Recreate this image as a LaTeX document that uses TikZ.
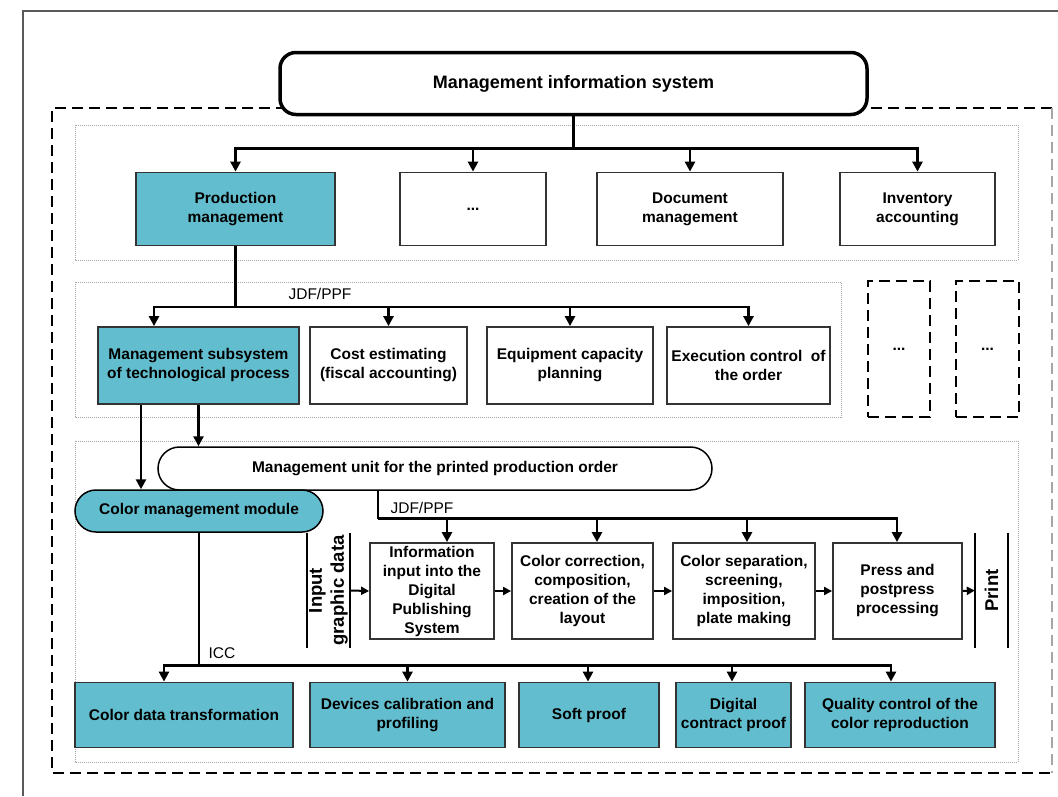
\documentclass[tikz,border=0pt]{standalone}
\usepackage{fontspec}
\setmainfont{Liberation Sans}
\usetikzlibrary{arrows.meta}
\definecolor{cmteal}{RGB}{98,190,206}

\begin{document}
\begin{tikzpicture}[x=1pt,y=-1pt,
  box/.style={draw=black!80,line width=1.8pt,align=center,inner sep=0pt,
    font=\bfseries\fontsize{15.5}{19}\selectfont},
  tbox/.style={box,fill=cmteal},
  lbl/.style={font=\fontsize{15.5}{18}\selectfont,inner sep=0pt},
  vlbl/.style={rotate=90,align=center,inner sep=0pt,
    font=\bfseries\fontsize{18.5}{22}\selectfont},
  panel/.style={draw=black!35,line width=0.8pt,dash pattern=on 1pt off 1pt},
  dbox/.style={draw,line width=1.8pt,dash pattern=on 11pt off 6pt},
  wire/.style={line width=2.6pt},
  arr/.style={wire,-{Triangle[length=10pt,width=10pt]}},
  harr/.style={line width=2pt,-{Triangle[length=8pt,width=8pt]}}]
\useasboundingbox (0,0) rectangle (1058,796);

% frame and panels
\draw[black!65,line width=1.2pt] (23,796) -- (23,11) -- (1058,11);
\draw[dbox] (1052,108) -- (52,108) -- (52,773) -- (1052,773);
\draw[dbox,draw=black!35] (1052,108) -- (1052,773);
\draw[panel] (75,125) rectangle (1018,260);
\draw[panel] (75,282) rectangle (841,417);
\draw[panel] (75,441) rectangle (1018,762);

\node[box,draw=black,line width=3.5pt,rounded corners=16pt,fill=white,
  minimum width=587pt,minimum height=62pt,
  font=\bfseries\fontsize{18}{21}\selectfont] (mis) at (573.5,83.5)
  {Management information system};

% first level
\node[tbox,minimum width=199pt,minimum height=73pt] (prod) at (235.5,209) {Production\\management};
\node[box,minimum width=146pt,minimum height=73pt] (etc) at (473,209) {...};
\node[box,minimum width=186pt,minimum height=73pt] (doc) at (690,209) {Document\\management};
\node[box,minimum width=155pt,minimum height=73pt] (inv) at (917.5,209) {Inventory\\accounting};

% second level
\node[tbox,minimum width=201pt,minimum height=77pt] (msub) at (198.5,365.5) {Management subsystem\\of technological process};
\node[box,minimum width=157pt,minimum height=77pt] (cost) at (388.5,365.5) {Cost estimating\\(fiscal accounting)};
\node[box,minimum width=166pt,minimum height=77pt] (equip) at (570,365.5) {Equipment capacity\\planning};
\node[box,minimum width=163pt,minimum height=77pt] (exec) at (748.5,365.5) {Execution control\ \ of\\the order};
\node[dbox,minimum width=62pt,minimum height=136pt,font=\bfseries\fontsize{15.5}{19}\selectfont] (more1) at (899,349) {...};
\node[dbox,minimum width=63pt,minimum height=136pt,font=\bfseries\fontsize{15.5}{19}\selectfont] (more2) at (987.5,349) {...};

% order unit and color module
\node[box,draw=black,line width=1.5pt,rounded corners=21.5pt,fill=white,
  minimum width=554pt,minimum height=43pt] (unit) at (435,468.5)
  {Management unit for the printed production order};
\node[tbox,draw=black,line width=1.5pt,rounded corners=21pt,
  minimum width=248pt,minimum height=42pt] (cmm) at (199,511)
  {Color management module};

% process chain
\node[minimum width=43pt,minimum height=115pt,inner sep=0pt] (inp) at (328.5,590.5) {};
\node[vlbl] (inptxt) at (inp) {Input\\graphic data};
\node[box,minimum width=124pt,minimum height=96pt] (info) at (432,591) {Information\\input into the\\Digital\\Publishing\\System};
\node[box,minimum width=141pt,minimum height=96pt] (cc) at (582.5,591) {Color correction,\\composition,\\creation of the\\layout};
\node[box,minimum width=142pt,minimum height=96pt] (sep) at (744,591) {Color separation,\\screening,\\imposition,\\plate making};
\node[box,minimum width=129pt,minimum height=96pt] (press) at (897.5,591) {Press and\\postpress\\processing};
\node[minimum width=33pt,minimum height=115pt,inner sep=0pt] (prt) at (991.5,590.5) {};
\node[vlbl] (prttxt) at (prt) {Print};
\draw[line width=2pt] (inp.north west) -- (inp.south west) (inp.north east) -- (inp.south east);
\draw[line width=2pt] (prt.north west) -- (prt.south west) (prt.north east) -- (prt.south east);

% color management tasks
\node[tbox,minimum width=218pt,minimum height=65pt] (cdt) at (184,715) {Color data transformation};
\node[tbox,minimum width=195pt,minimum height=65pt] (dev) at (407.5,715) {Devices calibration and\\profiling};
\node[tbox,minimum width=140pt,minimum height=65pt] (soft) at (589,715) {Soft proof};
\node[tbox,minimum width=115pt,minimum height=65pt] (dig) at (733.5,715) {Digital\\contract proof};
\node[tbox,minimum width=190pt,minimum height=65pt] (qc) at (900,715) {Quality control of the\\color reproduction};

% connectors
\draw[wire] (mis.south) -- ++(0,32) coordinate (b1);
\foreach \n in {prod,etc,doc,inv}
  \draw[arr] (b1) -| (\n.north);

\draw[wire] (prod.south) -- ++(0,60.5) coordinate (b2);
\draw[arr] (b2) -| ([xshift=-44.5pt]msub.north);
\foreach \n in {cost,equip,exec}
  \draw[arr] (b2) -| (\n.north);
\node[lbl] (jdf1) at (320,294) {JDF/PPF};

\draw[arr] ([xshift=-57.5pt]msub.south) -- ([xshift=-57.5pt]msub.south |- cmm.north);
\draw[arr] (msub.south) -- (msub.south |- unit.north);

\draw[wire] ([xshift=-57pt]unit.south) -- ++(0,28) coordinate (b3);
\foreach \n/\d in {info/15,cc/14.5,sep/3,press/-0.5}
  \draw[arr] (b3) -| ([xshift=\d pt]\n.north);
\node[lbl] (jdf2) at (422,508) {JDF/PPF};

\draw[harr] (inp.east) -- (info.west);
\draw[harr] (info.east) -- (cc.west);
\draw[harr] (cc.east) -- (sep.west);
\draw[harr] (sep.east) -- (press.west);
\draw[harr] (press.east) -- (prt.west);

\draw[wire] (cmm.south) -- ++(0,133) coordinate (b4);
\foreach \n/\d in {cdt/-20,dev/0,soft/-1,dig/-1.5,qc/-9}
  \draw[arr] (b4) -| ([xshift=\d pt]\n.north);
\node[lbl] (icc) at (222,653) {ICC};
\end{tikzpicture}
\end{document}
